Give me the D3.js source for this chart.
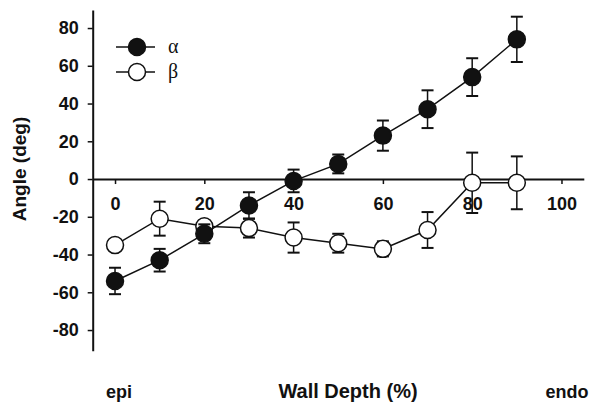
<!DOCTYPE html>
<html>
<head>
<meta charset="utf-8">
<script src="https://cdn.jsdelivr.net/npm/d3@7"></script>
<style>
  body { margin: 0; background: #fff; }
  text { font-family: "Liberation Sans", Arial, sans-serif; font-weight: bold; fill: #111; }
</style>
</head>
<body>
<div id="chart"></div>
<script>
// wall depth (%)
var depth = [0, 10, 20, 30, 40, 50, 60, 70, 80, 90];
// alpha angle and error (deg)
var alphaMean = [-54, -43, -29, -14, -1, 8, 23, 37, 54, 74];
var alphaErr  = [7, 6, 5, 7, 6, 5, 8, 10, 10, 12];
// beta angle and error (deg)
var betaMean = [-35, -21, -25, -26, -31, -34, -37, -27, -2, -2];
var betaErr  = [3, 9, 3, 5, 8, 5, 4, 9.5, 16, 14];

var xTicks = [0, 20, 40, 60, 80, 100];
var yTicks = [-80, -60, -40, -20, 0, 20, 40, 60, 80];

var width = 600,
    height = 416,
    markerR = 8.5,
    capW = 6;

var svg = d3.select("#chart")
    .append("svg")
    .attr("width", width)
    .attr("height", height);

var x = d3.scaleLinear()
    .domain([-5, 105])
    .range([92.7, 583.8]);

var y = d3.scaleLinear()
    .domain([-91, 89.5])
    .range([350.8, 10.1]);

// plain hyphen for negatives, like the original
var fmt = function (d) { return String(d); };

function styleAxis(g) {
    g.select(".domain").style("stroke", "#111").style("stroke-width", "2px");
    g.selectAll(".tick line").style("stroke", "#111").style("stroke-width", "1.5px");
    g.selectAll(".tick text")
        .style("font-size", "18px")
        .style("font-family", "'Liberation Sans', Arial, sans-serif")
        .style("font-weight", "bold")
        .style("fill", "#111");
}

// y axis
var yAxis = svg.append("g")
    .attr("transform", "translate(" + x(-5) + ",0)")
    .call(d3.axisLeft(y).tickValues(yTicks).tickFormat(fmt).tickSizeInner(5).tickSizeOuter(0).tickPadding(9));
styleAxis(yAxis);

// x axis along zero
var xAxis = svg.append("g")
    .attr("transform", "translate(0," + y(0) + ")")
    .call(d3.axisBottom(x).tickValues(xTicks).tickFormat(fmt).tickSizeInner(5).tickSizeOuter(0).tickPadding(13));
styleAxis(xAxis);

function drawSeries(mean, err, fill) {
    var pts = depth.map(function (d, i) { return { x: d, y: mean[i], e: err[i] }; });

    var g = svg.append("g");

    // error bars
    pts.forEach(function (p) {
        g.append("line")
            .attr("x1", x(p.x)).attr("x2", x(p.x))
            .attr("y1", y(p.y + p.e)).attr("y2", y(p.y - p.e))
            .style("stroke", "#111").style("stroke-width", "1.5px");
        [p.y + p.e, p.y - p.e].forEach(function (v) {
            g.append("line")
                .attr("x1", x(p.x) - capW).attr("x2", x(p.x) + capW)
                .attr("y1", y(v)).attr("y2", y(v))
                .style("stroke", "#111").style("stroke-width", "2px");
        });
    });

    g.append("path")
        .datum(pts)
        .attr("d", d3.line().x(function (d) { return x(d.x); }).y(function (d) { return y(d.y); }))
        .style("fill", "none")
        .style("stroke", "#111")
        .style("stroke-width", "1.5px");

    g.selectAll("circle")
        .data(pts)
        .enter().append("circle")
        .attr("cx", function (d) { return x(d.x); })
        .attr("cy", function (d) { return y(d.y); })
        .attr("r", markerR)
        .style("fill", fill)
        .style("stroke", "#111")
        .style("stroke-width", "1.5px");
}

drawSeries(betaMean, betaErr, "#fff");
drawSeries(alphaMean, alphaErr, "#111");

// legend
var legend = [{ label: "α", fill: "#111", cy: 47 }, { label: "β", fill: "#fff", cy: 72 }];
legend.forEach(function (l) {
    svg.append("line")
        .attr("x1", 116).attr("x2", 155)
        .attr("y1", l.cy).attr("y2", l.cy)
        .style("stroke", "#111").style("stroke-width", "1.5px");
    svg.append("circle")
        .attr("cx", 137).attr("cy", l.cy).attr("r", markerR)
        .style("fill", l.fill).style("stroke", "#111").style("stroke-width", "1.5px");
    svg.append("text")
        .attr("x", 168).attr("y", l.cy)
        .attr("dy", "0.32em")
        .text(l.label)
        .style("font-family", "'Liberation Serif', 'DejaVu Serif', serif")
        .style("font-weight", "normal")
        .style("font-size", "20px");
});

// axis titles
svg.append("text")
    .attr("transform", "translate(26,169) rotate(-90)")
    .attr("text-anchor", "middle")
    .text("Angle (deg)")
    .style("font-size", "19px");

svg.append("text")
    .attr("x", 348).attr("y", 398)
    .attr("text-anchor", "middle")
    .text("Wall Depth (%)")
    .style("font-size", "20px");

svg.append("text")
    .attr("x", 119).attr("y", 398)
    .attr("text-anchor", "middle")
    .text("epi")
    .style("font-size", "18px");

svg.append("text")
    .attr("x", 567).attr("y", 398)
    .attr("text-anchor", "middle")
    .text("endo")
    .style("font-size", "18px");
</script>
</body>
</html>
